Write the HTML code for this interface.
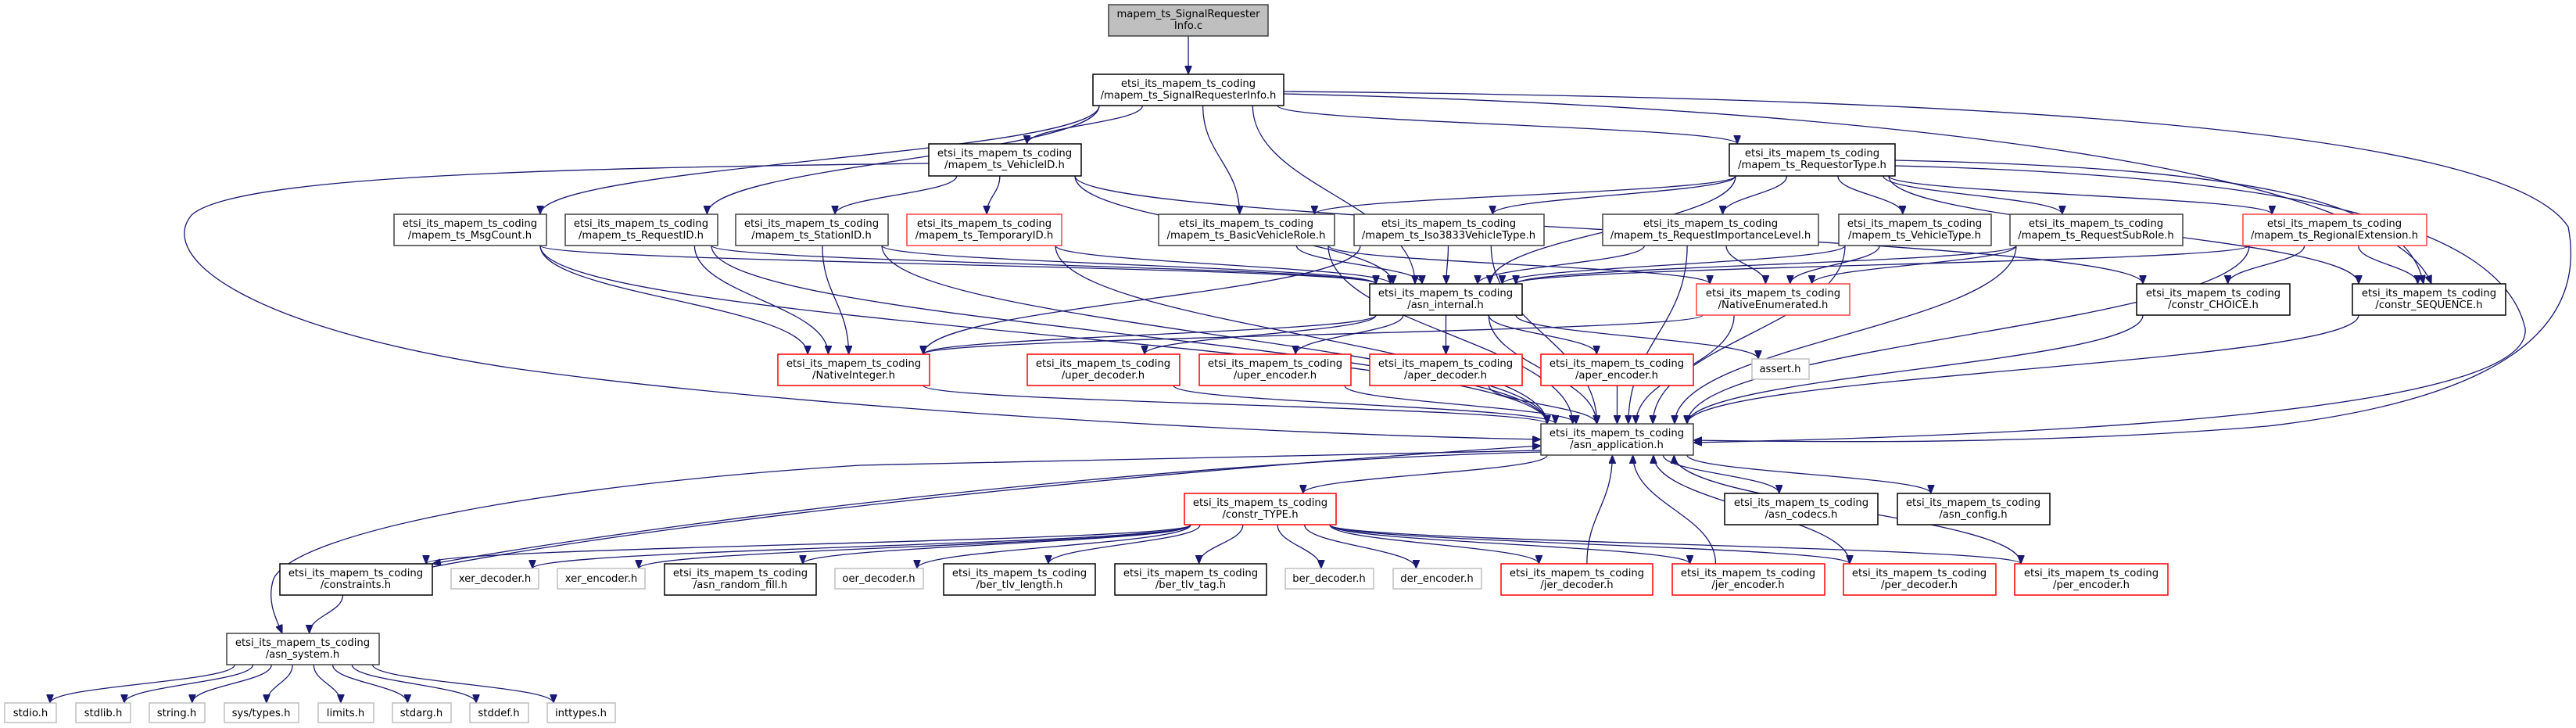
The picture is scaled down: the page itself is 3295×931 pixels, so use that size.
<!DOCTYPE html>
<html><head><meta charset="utf-8">
<style>
html,body{margin:0;padding:0;background:#fff;}
svg{display:block;}
text{font-family:"DejaVu Sans","Liberation Sans",sans-serif;font-size:13.2px;fill:#000;text-anchor:middle;}
</style></head>
<body>
<svg id="g" width="3295" height="931" viewBox="0 0 3295 931" xmlns="http://www.w3.org/2000/svg">
<defs>
<marker id="ah" markerUnits="userSpaceOnUse" markerWidth="11" markerHeight="9" refX="11" refY="4.5" orient="auto">
<path d="M0,0 L11,4.5 L0,9 z" fill="#191970" stroke="#191970"/>
</marker>
</defs>
<g id="edges" fill="none" stroke="#191970" stroke-width="1.3"></g>
<g id="nodes">
<rect x="1418" y="6" width="204" height="40" fill="#bfbfbf" stroke="#404040" stroke-width="1.5"/>
<text x="1520" y="22">mapem_ts_SignalRequester</text><text x="1520" y="37">Info.c</text>

<rect x="1398" y="95" width="244" height="40" fill="#fff" stroke="#000" stroke-width="1.5"/>
<text x="1520" y="111">etsi_its_mapem_ts_coding</text><text x="1520" y="126">/mapem_ts_SignalRequesterInfo.h</text>

<rect x="1188" y="184" width="195" height="41" fill="#fff" stroke="#000" stroke-width="1.5"/>
<text x="1285" y="200">etsi_its_mapem_ts_coding</text><text x="1285" y="215">/mapem_ts_VehicleID.h</text>
<rect x="2212" y="184" width="212" height="41" fill="#fff" stroke="#000" stroke-width="1.5"/>
<text x="2318" y="200">etsi_its_mapem_ts_coding</text><text x="2318" y="215">/mapem_ts_RequestorType.h</text>

<rect x="504" y="274" width="195" height="40" fill="#fff" stroke="#404040" stroke-width="1.5"/>
<text x="601" y="290">etsi_its_mapem_ts_coding</text><text x="601" y="305">/mapem_ts_MsgCount.h</text>
<rect x="723" y="274" width="195" height="40" fill="#fff" stroke="#404040" stroke-width="1.5"/>
<text x="820" y="290">etsi_its_mapem_ts_coding</text><text x="820" y="305">/mapem_ts_RequestID.h</text>
<rect x="941" y="274" width="195" height="40" fill="#fff" stroke="#404040" stroke-width="1.5"/>
<text x="1038" y="290">etsi_its_mapem_ts_coding</text><text x="1038" y="305">/mapem_ts_StationID.h</text>
<rect x="1160" y="274" width="198" height="40" fill="#fff" stroke="#ff4040" stroke-width="1.5"/>
<text x="1259" y="290">etsi_its_mapem_ts_coding</text><text x="1259" y="305">/mapem_ts_TemporaryID.h</text>
<rect x="1482" y="274" width="225" height="40" fill="#fff" stroke="#404040" stroke-width="1.5"/>
<text x="1594" y="290">etsi_its_mapem_ts_coding</text><text x="1594" y="305">/mapem_ts_BasicVehicleRole.h</text>
<rect x="1732" y="274" width="243" height="40" fill="#fff" stroke="#404040" stroke-width="1.5"/>
<text x="1853" y="290">etsi_its_mapem_ts_coding</text><text x="1853" y="305">/mapem_ts_Iso3833VehicleType.h</text>
<rect x="2050" y="274" width="276" height="40" fill="#fff" stroke="#404040" stroke-width="1.5"/>
<text x="2188" y="290">etsi_its_mapem_ts_coding</text><text x="2188" y="305">/mapem_ts_RequestImportanceLevel.h</text>
<rect x="2352" y="274" width="195" height="40" fill="#fff" stroke="#404040" stroke-width="1.5"/>
<text x="2449" y="290">etsi_its_mapem_ts_coding</text><text x="2449" y="305">/mapem_ts_VehicleType.h</text>
<rect x="2571" y="274" width="221" height="40" fill="#fff" stroke="#404040" stroke-width="1.5"/>
<text x="2681" y="290">etsi_its_mapem_ts_coding</text><text x="2681" y="305">/mapem_ts_RequestSubRole.h</text>
<rect x="2869" y="274" width="235" height="40" fill="#fff" stroke="#ff4040" stroke-width="1.5"/>
<text x="2986" y="290">etsi_its_mapem_ts_coding</text><text x="2986" y="305">/mapem_ts_RegionalExtension.h</text>

<rect x="1752" y="363" width="195" height="40" fill="#fff" stroke="#000" stroke-width="1.5"/>
<text x="1849" y="379">etsi_its_mapem_ts_coding</text><text x="1849" y="394">/asn_internal.h</text>
<rect x="2170" y="363" width="196" height="40" fill="#fff" stroke="#ff4040" stroke-width="1.5"/>
<text x="2268" y="379">etsi_its_mapem_ts_coding</text><text x="2268" y="394">/NativeEnumerated.h</text>
<rect x="2733" y="363" width="196" height="40" fill="#fff" stroke="#000" stroke-width="1.5"/>
<text x="2831" y="379">etsi_its_mapem_ts_coding</text><text x="2831" y="394">/constr_CHOICE.h</text>
<rect x="3009" y="363" width="196" height="40" fill="#fff" stroke="#000" stroke-width="1.5"/>
<text x="3107" y="379">etsi_its_mapem_ts_coding</text><text x="3107" y="394">/constr_SEQUENCE.h</text>
<rect x="2241" y="459" width="73" height="26" fill="#fff" stroke="#bfbfbf" stroke-width="1.5"/>
<text x="2277" y="476">assert.h</text>

<rect x="995" y="453" width="194" height="40" fill="#fff" stroke="#ff0000" stroke-width="1.5"/>
<text x="1092" y="469">etsi_its_mapem_ts_coding</text><text x="1092" y="484">/NativeInteger.h</text>
<rect x="1314" y="453" width="195" height="40" fill="#fff" stroke="#ff0000" stroke-width="1.5"/>
<text x="1411" y="469">etsi_its_mapem_ts_coding</text><text x="1411" y="484">/uper_decoder.h</text>
<rect x="1534" y="453" width="194" height="40" fill="#fff" stroke="#ff0000" stroke-width="1.5"/>
<text x="1631" y="469">etsi_its_mapem_ts_coding</text><text x="1631" y="484">/uper_encoder.h</text>
<rect x="1752" y="453" width="195" height="40" fill="#fff" stroke="#ff0000" stroke-width="1.5"/>
<text x="1849" y="469">etsi_its_mapem_ts_coding</text><text x="1849" y="484">/aper_decoder.h</text>
<rect x="1971" y="453" width="195" height="40" fill="#fff" stroke="#ff0000" stroke-width="1.5"/>
<text x="2068" y="469">etsi_its_mapem_ts_coding</text><text x="2068" y="484">/aper_encoder.h</text>

<rect x="1971" y="542" width="195" height="40" fill="#fff" stroke="#404040" stroke-width="1.5"/>
<text x="2068" y="558">etsi_its_mapem_ts_coding</text><text x="2068" y="573">/asn_application.h</text>

<rect x="1515" y="631" width="194" height="40" fill="#fff" stroke="#ff0000" stroke-width="1.5"/>
<text x="1612" y="647">etsi_its_mapem_ts_coding</text><text x="1612" y="662">/constr_TYPE.h</text>
<rect x="2206" y="631" width="196" height="40" fill="#fff" stroke="#000" stroke-width="1.5"/>
<text x="2304" y="647">etsi_its_mapem_ts_coding</text><text x="2304" y="662">/asn_codecs.h</text>
<rect x="2427" y="631" width="195" height="40" fill="#fff" stroke="#000" stroke-width="1.5"/>
<text x="2524" y="647">etsi_its_mapem_ts_coding</text><text x="2524" y="662">/asn_config.h</text>

<rect x="358" y="721" width="195" height="40" fill="#fff" stroke="#000" stroke-width="1.5"/>
<text x="455" y="737">etsi_its_mapem_ts_coding</text><text x="455" y="752">/constraints.h</text>
<rect x="577" y="727" width="112" height="26" fill="#fff" stroke="#bfbfbf" stroke-width="1.5"/>
<text x="633" y="744">xer_decoder.h</text>
<rect x="713" y="727" width="112" height="26" fill="#fff" stroke="#bfbfbf" stroke-width="1.5"/>
<text x="769" y="744">xer_encoder.h</text>
<rect x="850" y="721" width="194" height="40" fill="#fff" stroke="#000" stroke-width="1.5"/>
<text x="947" y="737">etsi_its_mapem_ts_coding</text><text x="947" y="752">/asn_random_fill.h</text>
<rect x="1068" y="727" width="113" height="26" fill="#fff" stroke="#bfbfbf" stroke-width="1.5"/>
<text x="1124" y="744">oer_decoder.h</text>
<rect x="1207" y="721" width="194" height="40" fill="#fff" stroke="#000" stroke-width="1.5"/>
<text x="1304" y="737">etsi_its_mapem_ts_coding</text><text x="1304" y="752">/ber_tlv_length.h</text>
<rect x="1426" y="721" width="194" height="40" fill="#fff" stroke="#000" stroke-width="1.5"/>
<text x="1523" y="737">etsi_its_mapem_ts_coding</text><text x="1523" y="752">/ber_tlv_tag.h</text>
<rect x="1644" y="727" width="113" height="26" fill="#fff" stroke="#bfbfbf" stroke-width="1.5"/>
<text x="1700" y="744">ber_decoder.h</text>
<rect x="1782" y="727" width="113" height="26" fill="#fff" stroke="#bfbfbf" stroke-width="1.5"/>
<text x="1838" y="744">der_encoder.h</text>
<rect x="1920" y="721" width="194" height="40" fill="#fff" stroke="#ff0000" stroke-width="1.5"/>
<text x="2017" y="737">etsi_its_mapem_ts_coding</text><text x="2017" y="752">/jer_decoder.h</text>
<rect x="2139" y="721" width="195" height="40" fill="#fff" stroke="#ff0000" stroke-width="1.5"/>
<text x="2236" y="737">etsi_its_mapem_ts_coding</text><text x="2236" y="752">/jer_encoder.h</text>
<rect x="2358" y="721" width="195" height="40" fill="#fff" stroke="#ff0000" stroke-width="1.5"/>
<text x="2455" y="737">etsi_its_mapem_ts_coding</text><text x="2455" y="752">/per_decoder.h</text>
<rect x="2577" y="721" width="196" height="40" fill="#fff" stroke="#ff0000" stroke-width="1.5"/>
<text x="2675" y="737">etsi_its_mapem_ts_coding</text><text x="2675" y="752">/per_encoder.h</text>

<rect x="290" y="810" width="195" height="40" fill="#fff" stroke="#404040" stroke-width="1.5"/>
<text x="387" y="826">etsi_its_mapem_ts_coding</text><text x="387" y="841">/asn_system.h</text>

<rect x="6" y="899" width="66" height="25" fill="#fff" stroke="#bfbfbf" stroke-width="1.5"/><text x="39" y="916">stdio.h</text>
<rect x="97" y="899" width="70" height="25" fill="#fff" stroke="#bfbfbf" stroke-width="1.5"/><text x="132" y="916">stdlib.h</text>
<rect x="191" y="899" width="71" height="25" fill="#fff" stroke="#bfbfbf" stroke-width="1.5"/><text x="226" y="916">string.h</text>
<rect x="287" y="899" width="95" height="25" fill="#fff" stroke="#bfbfbf" stroke-width="1.5"/><text x="334" y="916">sys/types.h</text>
<rect x="407" y="899" width="71" height="25" fill="#fff" stroke="#bfbfbf" stroke-width="1.5"/><text x="442" y="916">limits.h</text>
<rect x="502" y="899" width="75" height="25" fill="#fff" stroke="#bfbfbf" stroke-width="1.5"/><text x="539" y="916">stdarg.h</text>
<rect x="601" y="899" width="75" height="25" fill="#fff" stroke="#bfbfbf" stroke-width="1.5"/><text x="638" y="916">stddef.h</text>
<rect x="700" y="899" width="87" height="25" fill="#fff" stroke="#bfbfbf" stroke-width="1.5"/><text x="743" y="916">inttypes.h</text>
</g>
</svg>
<script>
var N={
root:[1418,1622,6,46],sri:[1398,1642,95,135],vid:[1188,1383,184,225],rqt:[2212,2424,184,225],
msg:[504,699,274,314],rid:[723,918,274,314],sid:[941,1136,274,314],tid:[1160,1358,274,314],
bvr:[1482,1707,274,314],iso:[1732,1975,274,314],ril:[2050,2326,274,314],vt:[2352,2547,274,314],
rsr:[2571,2792,274,314],rex:[2869,3104,274,314],
ai:[1752,1947,363,403],ne:[2170,2366,363,403],ch:[2733,2929,363,403],seq:[3009,3205,363,403],as:[2241,2314,459,485],
ni:[995,1189,453,493],ud:[1314,1509,453,493],ue:[1534,1728,453,493],ad:[1752,1947,453,493],ae:[1971,2166,453,493],
app:[1971,2166,542,582],ct:[1515,1709,631,671],cod:[2206,2402,631,671],cfg:[2427,2622,631,671],
cons:[358,553,721,761],xd:[577,689,727,753],xe:[713,825,727,753],rf:[850,1044,721,761],od:[1068,1181,727,753],
btl:[1207,1401,721,761],btt:[1426,1620,721,761],bd:[1644,1757,727,753],de:[1782,1895,727,753],
jd:[1920,2114,721,761],je:[2139,2334,721,761],pd:[2358,2553,721,761],pe:[2577,2773,721,761],
sys:[290,485,810,850],
s1:[6,72,899,924],s2:[97,167,899,924],s3:[191,262,899,924],s4:[287,382,899,924],s5:[407,478,899,924],s6:[502,577,899,924],s7:[601,676,899,924],s8:[700,787,899,924]
};
var E=[
['root','sri'],
['sri','vid'],['sri','rqt'],['sri','msg'],['sri','rid'],['sri','ai'],['sri','bvr'],
['vid','sid'],['vid','tid'],['vid','ai'],['vid','ch'],
['rqt','bvr'],['rqt','iso'],['rqt','ril'],['rqt','vt'],['rqt','rsr'],['rqt','rex'],['rqt','ai'],['rqt','seq'],
['msg','ni'],['msg','ai'],['msg','app'],['rid','ni'],['rid','ai'],['rid','app'],['sid','ni'],['sid','ai'],['sid','app'],
['tid','ai'],['tid','app'],['bvr','ai'],['bvr','ne'],['bvr','app'],['iso','ai'],['iso','ni'],['iso','app'],
['ril','ai'],['ril','ne'],['ril','app'],['vt','ai'],['vt','ne'],['vt','app'],['rsr','ai'],['rsr','ne'],['rsr','app'],
['rex','ai'],['rex','ch'],['rex','seq'],['rex','app'],
['ne','ni'],['ne','app'],
['ai','ud'],['ai','ue'],['ai','ad'],['ai','ae'],['ai','as'],['ai','app'],['ai','ni'],
['ch','app'],['seq','app'],['ni','app'],['ud','app'],['ue','app'],['ad','app'],['ae','app'],
['app','ct'],['app','cod'],['app','cfg'],
['ct','cons'],['ct','xd'],['ct','xe'],['ct','rf'],['ct','od'],['ct','btl'],['ct','btt'],['ct','bd'],['ct','de'],
['ct','jd'],['ct','je'],['ct','pd'],['ct','pe'],
['jd','app'],['je','app'],['pd','app'],['pe','app'],
['cons','sys'],
['sys','s1'],['sys','s2'],['sys','s3'],['sys','s4'],['sys','s5'],['sys','s6'],['sys','s7'],['sys','s8']
];
var P=[
'M1188,209 C700,215 300,225 245,275 C200,330 320,420 650,470 C1000,520 1600,555 1971,562',
'M1642,117 C2500,125 3200,160 3285,290 C3310,420 3200,510 2900,545 C2600,570 2300,565 2166,563',
'M1642,120 C2500,140 3060,230 3110,363',
'M2424,205 C2900,215 3080,260 3100,363',
'M2424,212 C2950,225 3200,290 3230,420 C3240,520 2700,555 2166,566',
'M1971,576 C1600,585 1300,590 1100,595 C700,620 380,680 350,740 C340,770 355,795 361,810',
'M1971,578 C1500,590 900,660 553,721',
'M553,725 C900,660 1500,600 1971,570'
];
var g=document.getElementById('edges'),h='';
function cl(v,a,b){return Math.max(a+8,Math.min(b-8,v));}
E.forEach(function(e){
 var s=N[e[0]],t=N[e[1]];
 var scx=(s[0]+s[1])/2,tcx=(t[0]+t[1])/2,sx,sy,tx,ty;
 if(t[2]>s[3]-1){
   sx=cl(scx+(tcx-scx)*0.25,s[0],s[1]);sy=s[3];
   tx=cl(tcx+(scx-tcx)*0.12,t[0],t[1]);ty=t[2];
 } else {
   sx=cl(scx+(tcx-scx)*0.25,s[0],s[1]);sy=s[2];
   tx=cl(tcx+(scx-tcx)*0.12,t[0],t[1]);ty=t[3];
 }
 var dy=ty-sy;
 h+='<path d="M'+sx+','+sy+' C'+sx+','+(sy+dy*0.45)+' '+tx+','+(ty-dy*0.45)+' '+tx+','+ty+'" marker-end="url(#ah)"/>';
});
P.forEach(function(d){h+='<path d="'+d+'" marker-end="url(#ah)"/>';});
g.innerHTML=h;
</script>
</body></html>
